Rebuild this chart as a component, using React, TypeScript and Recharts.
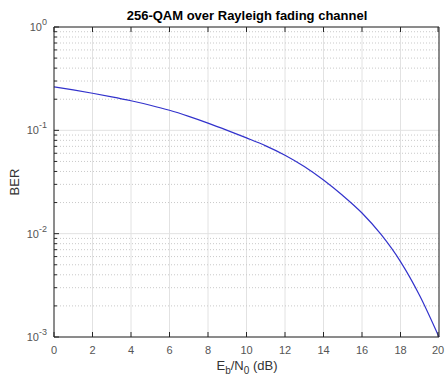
import { LineChart, Line, XAxis, YAxis, CartesianGrid, ReferenceLine } from "recharts";

const ebn0 = [0, 1, 2, 3, 4, 5, 6, 7, 8, 9, 10, 11, 12, 13, 14, 15, 16, 17, 18, 19, 20];
const ber = [
  0.2636, 0.246, 0.2286, 0.2109, 0.1932, 0.175, 0.1563, 0.1365, 0.1175, 0.1, 0.0845,
  0.0708, 0.0575, 0.0447, 0.0331, 0.0234, 0.01585, 0.00977, 0.00537, 0.00251, 0.001,
];
const xTicks = [0, 2, 4, 6, 8, 10, 12, 14, 16, 18, 20];
const decadeTicks = [0.001, 0.01, 0.1, 1];
const minorTicks = [
  0.002, 0.003, 0.004, 0.005, 0.006, 0.007, 0.008, 0.009,
  0.02, 0.03, 0.04, 0.05, 0.06, 0.07, 0.08, 0.09,
  0.2, 0.3, 0.4, 0.5, 0.6, 0.7, 0.8, 0.9,
];
const allYTicks = [...decadeTicks, ...minorTicks].sort((a, b) => a - b);

const data = ebn0.map((x, i) => ({ x, ber: ber[i] }));

const FONT = "'Liberation Sans', Arial, Helvetica, sans-serif";
const AXIS = "#262626";

function LeftTick({ x, y, payload }: any) {
  const v = payload.value;
  const major = decadeTicks.includes(v);
  const ax = x + 6;
  return (
    <g>
      <line x1={ax} x2={ax + (major ? 5 : 3)} y1={y} y2={y} stroke={AXIS} strokeWidth={1} />
      {major && (
        <text x={ax - 7} y={y + 4} textAnchor="end" fontSize={11} fill="#555" fontFamily={FONT}>
          10
          <tspan dy={-6} fontSize={9}>{Math.round(Math.log10(v))}</tspan>
        </text>
      )}
    </g>
  );
}

function RightTick({ x, y, payload }: any) {
  const major = decadeTicks.includes(payload.value);
  return <line x1={x} x2={x - (major ? 5 : 3)} y1={y} y2={y} stroke={AXIS} strokeWidth={1} />;
}

function BottomTick({ x, y, payload }: any) {
  const ay = y - 4;
  return (
    <g>
      <line x1={x} x2={x} y1={ay} y2={ay - 5} stroke={AXIS} strokeWidth={1} />
      <text x={x} y={ay + 17} textAnchor="middle" fontSize={11} fill="#555" fontFamily={FONT}>
        {payload.value}
      </text>
    </g>
  );
}

function TopTick({ x, y }: any) {
  return <line x1={x} x2={x} y1={y} y2={y + 5} stroke={AXIS} strokeWidth={1} />;
}

export default function App() {
  return (
    <div style={{ position: "absolute", left: 0, top: 0, width: 446, height: 378, background: "#fff" }}>
      <LineChart width={446} height={378} data={data} margin={{ top: 26, right: 6, bottom: 0, left: 0 }}>
        <CartesianGrid horizontal={false} stroke="#e2e2e2" strokeWidth={1} />
        {minorTicks.map((v) => (
          <ReferenceLine key={"m" + v} y={v} stroke="#c9c9c9" strokeDasharray="1 2" strokeWidth={1} />
        ))}
        {decadeTicks.map((v) => (
          <ReferenceLine key={"d" + v} y={v} stroke="#e2e2e2" strokeWidth={1} />
        ))}
        <XAxis
          dataKey="x"
          type="number"
          domain={[0, 20]}
          ticks={xTicks}
          height={41}
          tickSize={0}
          tickMargin={4}
          tick={<BottomTick />}
          axisLine={{ stroke: AXIS }}
          tickLine={false}
        />
        <XAxis
          xAxisId="top"
          orientation="top"
          dataKey="x"
          type="number"
          domain={[0, 20]}
          ticks={xTicks}
          height={1}
          tickSize={0}
          tickMargin={0}
          tick={<TopTick />}
          axisLine={{ stroke: AXIS }}
          tickLine={false}
        />
        <YAxis
          scale="log"
          type="number"
          domain={[0.001, 1]}
          ticks={allYTicks}
          interval={0}
          width={54}
          tickSize={0}
          tickMargin={6}
          tick={<LeftTick />}
          axisLine={{ stroke: AXIS }}
          tickLine={false}
        />
        <YAxis
          yAxisId="right"
          orientation="right"
          scale="log"
          type="number"
          domain={[0.001, 1]}
          ticks={allYTicks}
          interval={0}
          width={1}
          tickSize={0}
          tickMargin={0}
          tick={<RightTick />}
          axisLine={{ stroke: AXIS }}
          tickLine={false}
        />
        <Line
          type="monotone"
          dataKey="ber"
          stroke="#3232cc"
          strokeWidth={1.2}
          dot={false}
          isAnimationActive={false}
        />
      </LineChart>
      <svg
        width={446}
        height={378}
        style={{ position: "absolute", left: 0, top: 0, pointerEvents: "none" }}
        fontFamily={FONT}
      >
        <text x={247} y={20} textAnchor="middle" fontSize={13} fontWeight="bold" fill="#000">
          256-QAM over Rayleigh fading channel
        </text>
        <text x={19} y={182} textAnchor="middle" fontSize={13} fill="#333" transform="rotate(-90 19 182)">
          BER
        </text>
        <text x={247} y={370} textAnchor="middle" fontSize={13} fill="#333">
          E<tspan dy={4} fontSize={10}>b</tspan>
          <tspan dy={-4}>/N</tspan>
          <tspan dy={4} fontSize={10}>0</tspan>
          <tspan dy={-4}> (dB)</tspan>
        </text>
      </svg>
    </div>
  );
}
